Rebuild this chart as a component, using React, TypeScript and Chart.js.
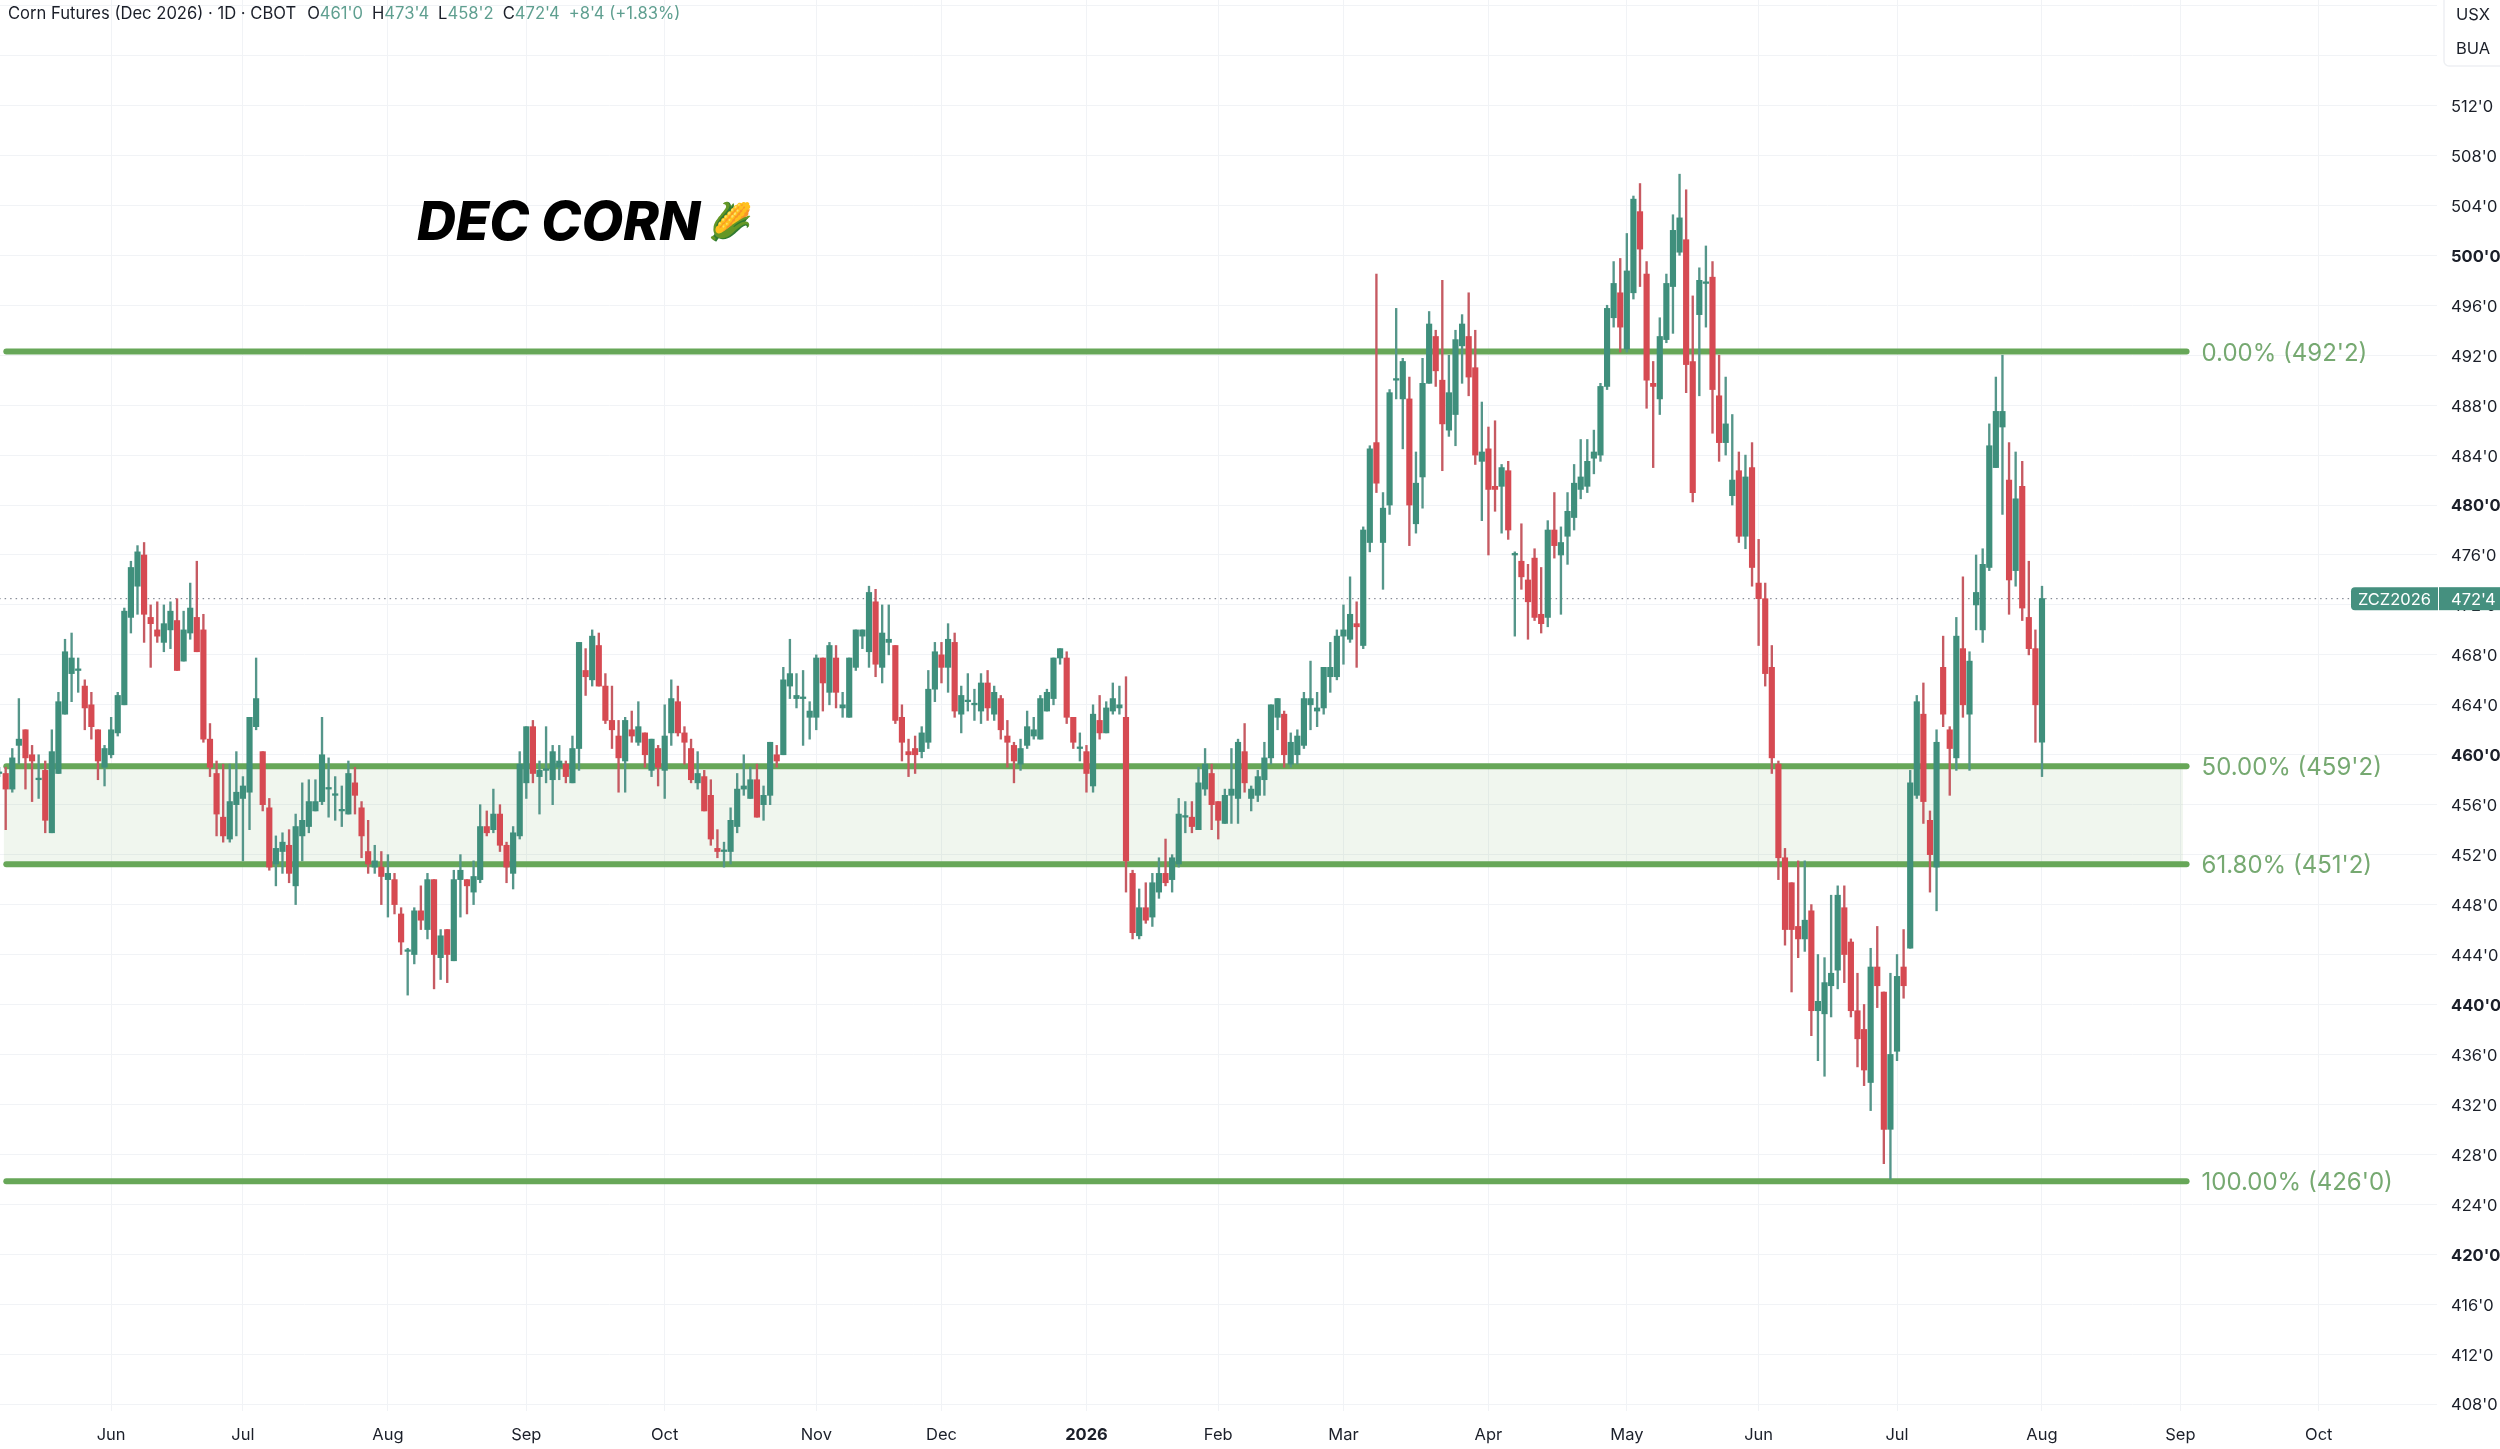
import React, { useEffect, useRef } from "react";
import { Chart, registerables } from "chart.js";

Chart.register(...registerables);

// Daily bars, Dec 2026 corn, in cents (the 1/8 notation of the axis shown as decimals)
const opens = [
  458.5,
  458.5, 457.25, 460.75, 462, 460, 458, 458.75, 453.75, 458.5, 463.25,
  466.5, 466.75, 465.5, 464, 462, 459, 460, 461.75, 464, 471,
  473.5, 476, 471, 470, 469, 470, 470.75, 467.5, 469.75, 471,
  470, 461.25, 458.5, 455, 453.25, 456, 456.5, 457, 462.25, 460.25,
  455.75, 451.25, 452.25, 452.75, 449.5, 453.5, 454.25, 455.5, 456.25, 457.25,
  456.75, 455.5, 455.25, 457.75, 455.75, 452.25, 451, 451, 450, 450,
  447.25, 444.25, 444, 447.5, 446, 450, 443.75, 446, 443.5, 450,
  450, 449, 450, 454.25, 454, 455.25, 452.75, 450.5, 453.5, 457.75,
  462.25, 458.25, 458.75, 458, 459, 459.25, 457.75, 460.5, 466.75, 466,
  468.75, 465.5, 462.75, 461.5, 459.5, 462, 461, 461.75, 458.75, 460.5,
  458.75, 461.75, 464.25, 461.75, 460.5, 457.75, 458.25, 456.75, 452.5, 452.25,
  452.25, 454.25, 457.25, 456.5, 458, 456, 456.75, 460, 460, 465.5,
  464.5, 464.5, 463, 463, 467.75, 465, 467.75, 463.75, 463, 467,
  469.5, 468.25, 472.25, 467, 469, 468.75, 463, 460.25, 460.5, 460.25,
  461, 465.25, 468, 467, 469, 463.25, 464.25, 464, 463.5, 465.75,
  463.25, 464.5, 461.5, 460.75, 459.25, 460.75, 461.5, 461.25, 463.5, 464.5,
  467.75, 467.75, 463, 460.5, 460.25, 457.5, 462.75, 461.75, 463.5, 463.75,
  463, 450.5, 445.5, 447.75, 447, 449, 450.5, 450, 451.25, 455,
  455, 454, 457.25, 458.5, 456.25, 454.5, 456.75, 456.5, 460.25, 456.5,
  456.75, 458, 459.75, 463, 463.25, 459.25, 460, 460.75, 464, 463.5,
  463.75, 466.25, 466.25, 469.5, 469.25, 470.5, 468.75, 477, 485, 477,
  480, 490, 488.5, 488.5, 478.5, 482.25, 489.75, 493.5, 490, 486,
  487.25, 492.75, 493.5, 491, 483.5, 484.5, 481.5, 481.5, 482.75, 476,
  475.5, 474, 475.75, 471.25, 471, 478, 476, 477.5, 479, 481.25,
  481.5, 483.75, 484, 489.5, 495, 497, 492.5, 497, 503.5, 498.5,
  489.75, 488.5, 493.25, 497.5, 500.25, 501.25, 491.5, 495.25, 497.75, 498.25,
  488.75, 485, 480.75, 482.75, 477.5, 483, 473.75, 472.5, 467, 459.25,
  451.75, 449.75, 446.25, 445.25, 447.5, 439.5, 439.25, 441.5, 442.75, 447.75,
  445, 439.5, 438, 433.75, 443, 441, 430, 436.25, 443, 444.5,
  456.75, 463.25, 454.75, 451, 467, 462, 459.75, 468.5, 463.25, 472,
  470, 475, 483, 486.25, 482, 474.75, 481.5, 471, 468.5, 461,
];
const highs = [
  459,
  459, 460.5, 464.5, 462, 460.75, 460, 459.5, 462, 465, 469.25,
  469.75, 467.75, 466, 465, 462, 460.75, 463, 465, 471.75, 475.5,
  476.75, 477, 472, 472.25, 472, 472.25, 472.5, 471.5, 473.75, 475.5,
  471.25, 462.5, 459.5, 459.25, 459.25, 460.25, 458.25, 463, 467.75, 460.25,
  456.5, 453.5, 453.75, 454, 455.25, 457.75, 458, 458, 463, 459.75,
  458.25, 457.5, 459.5, 459, 456.25, 454.75, 452.75, 452.25, 452, 450.5,
  447.75, 444.5, 447.75, 449.5, 450.5, 450, 446, 446, 450.75, 452,
  450, 451.5, 456, 455.5, 457.25, 456, 453, 454.25, 460.25, 462.25,
  462.75, 459.5, 462.25, 460.75, 460.75, 459.5, 461.5, 469, 468.5, 470,
  469.75, 466.5, 465.5, 462.75, 463, 463.5, 464.25, 461.75, 461.25, 460.75,
  464, 466, 465.5, 462.25, 461.25, 460.25, 458.75, 458, 454, 453,
  455.75, 458.5, 460, 459, 459.25, 457.5, 461, 460.75, 467, 469.25,
  466.5, 466.75, 464.25, 468, 467.75, 469, 468.75, 465, 467.75, 470,
  470, 473.5, 473.25, 472, 472, 468.75, 464, 461.25, 461.5, 462.25,
  466.75, 469, 469, 470.5, 469.75, 465.5, 466.5, 465.25, 466.5, 466.75,
  465.5, 464.75, 462.75, 461, 461.25, 463.5, 463, 464.75, 465.25, 467.75,
  468.5, 468.25, 463, 461.75, 460.75, 464, 464.75, 464.25, 465.75, 465.5,
  466.25, 450.75, 449.25, 449.75, 450.5, 451.75, 453.25, 452, 456.5, 456.25,
  456.25, 459, 460.5, 459.25, 456.25, 457.25, 460.5, 461.25, 462.5, 457.5,
  458.75, 461, 464, 464.5, 463.5, 461.75, 462, 465, 467.5, 465,
  467, 469, 470, 472, 474.25, 472.25, 478.25, 484.75, 498.5, 481,
  489.25, 495.75, 491.75, 490.25, 484.25, 491.75, 495.5, 494, 498, 492,
  494, 495.25, 497, 494, 488.25, 486.25, 486.75, 483.25, 483.5, 476.25,
  478.5, 475.25, 476.5, 475, 478.75, 481, 478.25, 481, 483.25, 485.25,
  485.25, 486, 489.75, 496, 499.5, 499.75, 501.75, 504.75, 505.75, 499.5,
  491.5, 495, 498.5, 503.25, 506.5, 505.25, 496.75, 499, 500.75, 499.5,
  492, 490.25, 487.25, 484.25, 484, 485, 477.25, 473.75, 468.75, 459.5,
  452.5, 449.75, 451.5, 451.5, 448, 444, 443.75, 448.75, 449.5, 449.5,
  445.25, 442.5, 440, 444.5, 446.25, 441, 442.5, 444, 446, 458.75,
  464.75, 465.75, 455.5, 462, 469.5, 462.25, 471, 474.25, 468.25, 476,
  476.5, 486.5, 490.25, 492, 485, 484.25, 483.5, 475.5, 470, 473.5,
];
const lows = [
  458.25,
  454, 457, 459.25, 457.25, 456.25, 456.5, 453.75, 453.75, 458.5, 463.25,
  464.25, 465, 462, 461.25, 458, 457.5, 459.75, 461.5, 464, 469.75,
  471.25, 469, 467, 469, 468.25, 468.5, 466.75, 467.5, 469.25, 468.25,
  461, 458.25, 453.5, 453, 453, 453.5, 451.5, 454, 462, 455.5,
  450.75, 449.5, 450.5, 449.75, 448, 451.5, 453.75, 455.5, 456, 455,
  454.75, 454.25, 455.25, 455.25, 451.75, 450.5, 450.5, 448, 447, 447.25,
  444, 440.75, 443.25, 446, 445.25, 441.25, 442, 441.75, 443.5, 447,
  447.25, 448, 449.75, 453.5, 453.75, 452.25, 449.75, 449.25, 453.25, 456.5,
  457.75, 455.25, 457.75, 456, 458, 457.75, 457.75, 458.75, 464.75, 465.5,
  465.5, 462.5, 460.5, 457, 457, 461, 460.75, 459, 458.25, 457.5,
  456.5, 460.75, 461.5, 459.25, 457.75, 457.25, 455.5, 452.75, 451.75, 451,
  451.25, 453.75, 456.75, 456.5, 455, 454.75, 456, 459, 460, 464.5,
  463.75, 460.75, 461.25, 462, 463.5, 464, 463.75, 463, 463, 466.75,
  468.5, 467, 466.25, 465.75, 468, 462.5, 459.5, 458.25, 458.5, 459.75,
  460.5, 464.25, 465.75, 465, 463, 461.75, 463.5, 462.75, 462.5, 462.75,
  462.75, 461.25, 459, 457.75, 458.75, 460.5, 461.25, 461.25, 463.5, 464,
  467.25, 462.5, 460.5, 459.5, 457, 457, 461.25, 461.75, 463.25, 463.25,
  449, 445.25, 445.25, 446.5, 446.25, 448.5, 449.5, 449, 451, 453.75,
  453.75, 454, 456.75, 454, 453.25, 454.5, 454.5, 454.5, 457, 455.5,
  456.25, 456.75, 459.25, 462, 459, 459, 459.25, 460.5, 462, 462.25,
  463.25, 465, 466, 467.25, 469, 467, 468.5, 476.25, 481, 473.25,
  479.25, 488.5, 484.5, 476.75, 477.75, 479.75, 489.75, 489.5, 482.75, 485.5,
  484.75, 489.75, 488.75, 483.25, 478.75, 476, 479.5, 477.75, 477.25, 469.5,
  473.25, 469.25, 470.75, 469.75, 470.25, 475.75, 471.25, 475.25, 478, 480.5,
  481, 482.5, 483.5, 489.25, 494.25, 492.25, 492.25, 496.5, 497.5, 487.75,
  483, 487.25, 493, 493.75, 500, 489, 480.25, 488.75, 494.25, 485.75,
  483.5, 484, 480, 477, 476.5, 473.5, 468.75, 465.5, 458.5, 450,
  444.75, 441, 443.75, 444.25, 437.5, 435.5, 434.25, 439, 441.25, 441.75,
  439, 435, 433.5, 431.5, 439.75, 427.25, 426, 435.5, 440.5, 444.5,
  456.5, 454.5, 449, 447.5, 462.25, 456.75, 458.75, 463, 458.75, 470,
  469, 474.75, 483, 479.25, 471.25, 473.5, 470.75, 468, 461, 458.25,
];
const closes = [
  458.5,
  457.25, 459.75, 461.25, 459.75, 459.5, 458, 454.75, 460.25, 464.25, 468.25,
  467.75, 466.75, 463.75, 462.25, 459.5, 460.5, 462, 464.75, 471.5, 475,
  476.25, 471.25, 470.5, 469.5, 470.5, 471.5, 466.75, 470, 471.75, 468.25,
  461.25, 459, 455.25, 453.5, 456.25, 457, 457.5, 463, 464.5, 456,
  451, 452.5, 453, 450.5, 454.25, 454.75, 456.25, 456.25, 460, 457.25,
  456.75, 455.5, 458.5, 456.75, 453.5, 451.25, 451.5, 450.25, 450.5, 448,
  445, 444.25, 447.5, 446.75, 450, 444, 445.5, 444, 450, 450.75,
  449.5, 450.25, 454.25, 453.75, 455.25, 452.75, 451, 453.75, 459.25, 462.25,
  458.5, 458.75, 458.75, 460.25, 459.5, 458.25, 460.5, 469, 466.25, 469.5,
  465.5, 462.75, 462, 459.75, 462.75, 461.5, 462.25, 460, 461.25, 459,
  461.5, 464.5, 461.75, 461, 458, 458.5, 455.5, 453.25, 452.25, 452.25,
  454.75, 457.25, 457.5, 458, 455, 456.75, 461, 459.5, 466, 466.5,
  464.75, 464.5, 463.5, 467.75, 465.75, 468.75, 465, 464, 467.75, 470,
  470, 473, 467.25, 469.75, 469.25, 462.75, 461, 460, 460, 461.75,
  465.25, 468.25, 467, 469.25, 463.5, 464.75, 464.25, 464, 465.75, 463.75,
  465, 462, 461, 459.5, 460.5, 462.25, 462, 464.5, 465, 467.75,
  468.5, 463, 461, 460.5, 458.5, 463.25, 461.75, 463.75, 464.5, 464,
  451.5, 445.75, 447.75, 446.75, 449.75, 450.5, 449.75, 451.75, 455.25, 455,
  454.25, 457.75, 459.25, 456, 454.75, 456.75, 457.25, 461, 457.75, 457.25,
  458.25, 459.75, 464, 464.5, 460, 461, 461.5, 464.5, 464.5, 463.75,
  467, 467, 469.5, 470, 471.25, 470.25, 478, 484.5, 481.75, 479.75,
  489, 490, 491.5, 480, 481.75, 489.75, 494.5, 490.75, 486.5, 489,
  493.25, 494.5, 490.25, 484, 484.25, 481.25, 481.25, 483, 478, 476,
  474.25, 472.25, 471, 470.5, 478, 476.75, 477, 479.5, 481.75, 482.25,
  483.5, 484.25, 489.5, 495.75, 497.75, 494.25, 498.75, 504.5, 500.5, 490,
  489.5, 493.5, 497.75, 502, 503, 491.25, 481, 498, 497.75, 489.25,
  485, 486.5, 482, 477.5, 482.25, 475, 472.5, 466.5, 459.75, 451.75,
  446, 446, 445.25, 446.75, 439.5, 440.25, 441.75, 442.5, 448.75, 444,
  439.5, 437.25, 434.75, 443, 441.5, 430, 436, 442.25, 441.5, 457.75,
  464.25, 456.25, 452, 461, 463.25, 460.5, 469.5, 464, 467.5, 473,
  475.25, 484.75, 487.5, 487.5, 474, 480.5, 471.75, 468.5, 464, 472.5,
];

const yTickStep = 4;
const monthTickBars = [17, 37, 59, 80, 101, 124, 143, 165, 185, 204, 226, 247, 267, 288, 310, 331, 352];
const monthTickLabels = ["Jun", "Jul", "Aug", "Sep", "Oct", "Nov", "Dec", "2026", "Feb", "Mar", "Apr", "May", "Jun", "Jul", "Aug", "Sep", "Oct"];
// level heights as they sit in the picture (a hair off the printed labels)
const fibLevels = [492.3, 459.08, 451.23, 425.84];
const fibTexts = ["0.00% (492'2)", "50.00% (459'2)", "61.80% (451'2)", "100.00% (426'0)"];
const fibBars = [1.09, 331.94];
const lastPrice = 472.5;
const headerMain = "Corn Futures (Dec 2026) · 1D · CBOT";
const headerPairs = [["O", "461'0"], ["H", "473'4"], ["L", "458'2"], ["C", "472'4"]];
const headerChange = "+8'4 (+1.83%)";

const GREEN = "#3f8f7c";
const RED = "#d64a52";
const GREEN_WICK = "#55968a";
const RED_WICK = "#c65a62";
const FIB = "#67a758";
const FIB_TEXT = "#76a971";
const GRID = "#f1f3f6";
const INK = "#1b1f29";
const FONT = "Inter";

const overlay = {
  id: "overlay",
  afterDraw(chart: any) {
    const { ctx, scales } = chart;
    const y = scales.y;
    const x = scales.x;
    ctx.save();
    ctx.textBaseline = "middle";
    ctx.textAlign = "left";

    // header
    ctx.font = `16.6px ${FONT}`;
    let cx = 8;
    ctx.fillStyle = INK;
    ctx.fillText(headerMain, cx, 14);
    cx += ctx.measureText(headerMain).width + 11;
    for (const [k, v] of headerPairs) {
      ctx.fillStyle = INK;
      ctx.fillText(k, cx, 14);
      cx += ctx.measureText(k).width;
      ctx.fillStyle = "#5f9f90";
      ctx.fillText(v, cx, 14);
      cx += ctx.measureText(v).width + 9;
    }
    ctx.fillStyle = "#5f9f90";
    ctx.fillText(headerChange, cx, 14);

    // title
    ctx.fillStyle = "#000";
    ctx.font = `italic 800 54px ${FONT}`;
    ctx.fillText("DEC CORN", 417, 224);
    ctx.font = `36px "Noto Sans", sans-serif`;
    ctx.fillText("🌽", 708, 224);

    // fib labels
    ctx.fillStyle = FIB_TEXT;
    ctx.font = `24px ${FONT}`;
    fibLevels.forEach((lv, i) => {
      ctx.fillText(fibTexts[i], x.getPixelForValue(fibBars[1]) + 15, y.getPixelForValue(lv) + 2);
    });

    // currency / unit box
    ctx.fillStyle = "#fff";
    ctx.strokeStyle = "#eef0f3";
    ctx.lineWidth = 1.5;
    ctx.beginPath();
    ctx.roundRect(2444, -10, 70, 76, 5);
    ctx.fill();
    ctx.stroke();
    ctx.fillStyle = INK;
    ctx.font = `16.5px ${FONT}`;
    ctx.fillText("USX", 2456, 15);
    ctx.fillText("BUA", 2456, 49);

    // last price tag
    const py = y.getPixelForValue(lastPrice);
    ctx.fillStyle = "#45907f";
    ctx.beginPath();
    ctx.roundRect(2351, py - 11.5, 87, 23, [4, 0, 0, 4]);
    ctx.fill();
    ctx.fillRect(2439, py - 11.5, 61, 23);
    ctx.fillStyle = "#fff";
    ctx.font = `16.5px ${FONT}`;
    ctx.fillText("ZCZ2026", 2358, py + 1);
    ctx.fillText("472'4", 2451, py + 1);
    ctx.restore();
  },
};

export default function App() {
  const ref = useRef<HTMLCanvasElement | null>(null);
  useEffect(() => {
    document.body.style.margin = "0";
    const bars = opens.map((_, i) => i);
    const colorOf = (i: number, up: string, down: string) => (closes[i] >= opens[i] ? up : down);
    const fibLine = (lv: number, order: number) => ({
      type: "line" as const,
      data: fibBars.map((b) => ({ x: b, y: lv })),
      borderColor: FIB,
      borderWidth: 6,
      borderCapStyle: "round" as const,
      pointRadius: 0,
      order,
    });
    const chart = new Chart(ref.current!, {
      type: "bar",
      data: {
        datasets: [
          {
            data: bars.map((i) => ({ x: i, y: [Math.min(opens[i], closes[i]), Math.max(opens[i], closes[i])] })) as any,
            backgroundColor: bars.map((i) => colorOf(i, GREEN, RED)),
            barThickness: 5.5,
            minBarLength: 1.6,
            grouped: false,
            order: 1,
          },
          {
            data: bars.map((i) => ({ x: i, y: [lows[i], highs[i]] })) as any,
            backgroundColor: bars.map((i) => colorOf(i, GREEN_WICK, RED_WICK)),
            barThickness: 1.7,
            grouped: false,
            order: 2,
          },
          ...fibLevels.map((lv) => fibLine(lv, 3)),
          {
            type: "line",
            data: [{ x: fibBars[0] - 0.4, y: fibLevels[1] }, { x: fibBars[1] - 0.55, y: fibLevels[1] }],
            borderWidth: 0,
            pointRadius: 0,
            fill: { value: fibLevels[2] },
            backgroundColor: "rgba(103,167,88,0.10)",
            order: 4,
          },
          {
            type: "line",
            data: [{ x: 0, y: lastPrice }, { x: 370, y: lastPrice }],
            borderColor: "#6f7480",
            borderWidth: 1,
            borderDash: [1.5, 4],
            pointRadius: 0,
            order: 5,
          },
        ] as any,
      },
      options: {
        responsive: false,
        animation: false,
        devicePixelRatio: 1,
        layout: { padding: 0 },
        plugins: { legend: { display: false }, tooltip: { enabled: false } },
        scales: {
          x: {
            type: "linear",
            position: "bottom",
            min: 0.135,
            max: 369.94,
            offset: false,
            grid: { color: GRID, offset: false, drawTicks: false },
            border: { display: false },
            afterFit: (s: any) => { s.height = 38; s.paddingLeft = 0; s.paddingRight = 0; },
            afterBuildTicks: (s: any) => { s.ticks = monthTickBars.map((value) => ({ value })); },
            ticks: {
              autoSkip: false,
              maxRotation: 0,
              padding: 14,
              color: INK,
              callback: (v: any) => monthTickLabels[monthTickBars.indexOf(Number(v))],
              font: (c: any) => ({ family: FONT, size: 16.5, weight: monthTickBars.indexOf(c.tick?.value) === 7 ? "700" : "400" }),
            },
          },
          y: {
            type: "linear",
            position: "right",
            min: 407.44,
            max: 520.45,
            grid: { color: GRID, drawTicks: false },
            border: { display: false },
            afterFit: (s: any) => { s.width = 63; s.paddingTop = 0; s.paddingBottom = 0; },
            ticks: {
              stepSize: yTickStep,
              includeBounds: false,
              autoSkip: false,
              padding: 14,
              labelOffset: 1.5,
              color: INK,
              callback: (v: any) => (Number(v) > 512 ? "" : `${v}'0`),
              font: (c: any) => ({ family: FONT, size: 16.5, weight: c.tick?.value % 20 === 0 ? "700" : "400" }),
            },
          },
        },
      },
      plugins: [overlay],
    } as any);
    return () => chart.destroy();
  }, []);
  return <canvas ref={ref} width={2500} height={1449} style={{ display: "block", width: 2500, height: 1449 }} />;
}
